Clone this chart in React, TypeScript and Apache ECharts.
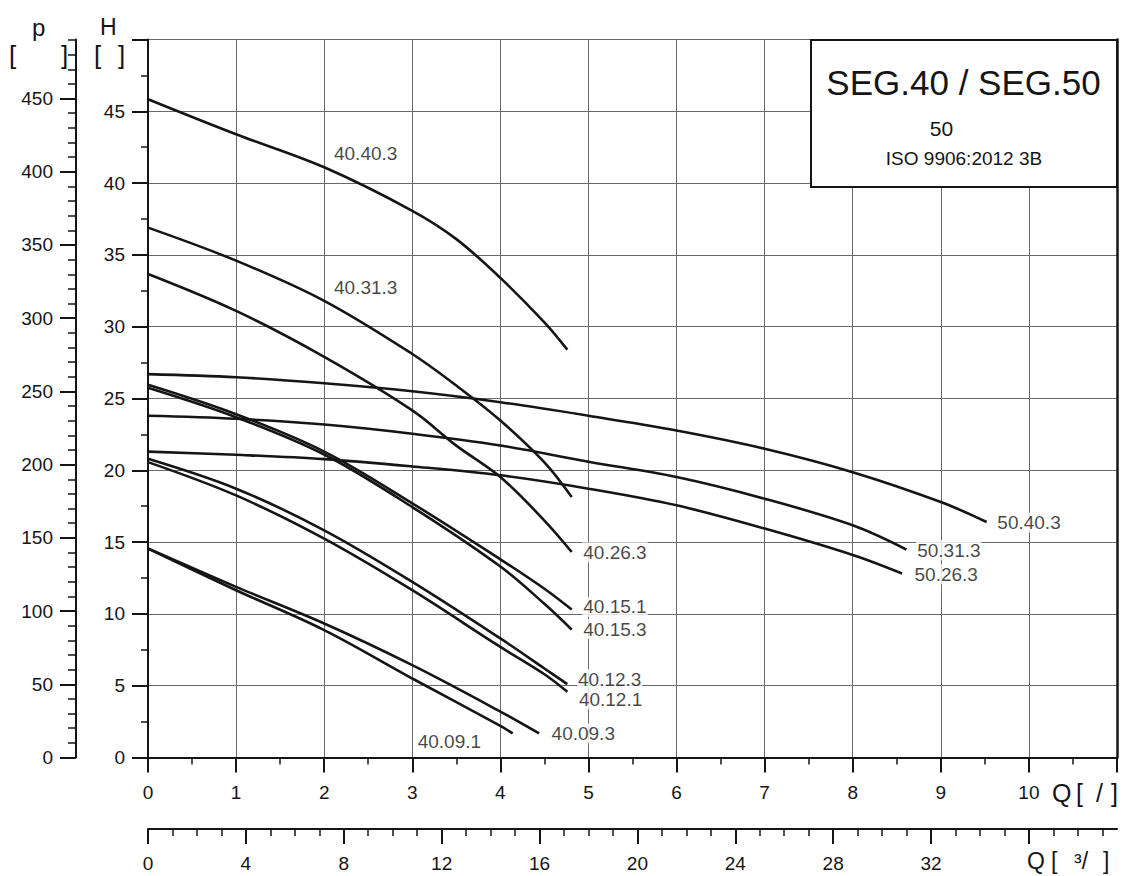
import React, { useEffect, useRef } from 'react';
import * as echarts from 'echarts';

const FONT = '"Liberation Sans", Arial, Helvetica, sans-serif';
const INK = '#151515';

// Curve data: flow Q [l/s] and head H [m]
const Q_4040_3 = [0, 1, 2, 3, 3.5, 4, 4.5, 4.76];
const H_4040_3 = [45.84, 43.4, 41.1, 38.07, 36.1, 33.4, 30.3, 28.4];
const Q_4031_3 = [0, 1, 2, 3, 3.5, 4, 4.5, 4.81];
const H_4031_3 = [36.9, 34.6, 31.8, 28.1, 25.9, 23.47, 20.55, 18.14];
const Q_4026_3 = [0, 1, 2, 3, 3.5, 4, 4.5, 4.81];
const H_4026_3 = [33.67, 31.1, 27.9, 24.17, 21.72, 19.53, 16.5, 14.31];
const Q_4015_1 = [0, 1, 2, 3, 4, 4.5, 4.81];
const H_4015_1 = [25.95, 23.9, 21.3, 17.7, 13.8, 11.75, 10.3];
const Q_4015_3 = [0, 1, 2, 3, 4, 4.5, 4.81];
const H_4015_3 = [25.75, 23.7, 21.1, 17.44, 13.3, 10.7, 8.9];
const Q_4012_3 = [0, 1, 2, 3, 4, 4.5, 4.76];
const H_4012_3 = [20.8, 18.72, 15.82, 12.23, 8.29, 6.2, 5.11];
const Q_4012_1 = [0, 1, 2, 3, 4, 4.5, 4.76];
const H_4012_1 = [20.57, 18.25, 15.24, 11.65, 7.7, 5.8, 4.58];
const Q_4009_3 = [0, 1, 2, 3, 4, 4.44];
const H_4009_3 = [14.55, 11.88, 9.33, 6.43, 3.2, 1.68];
const Q_4009_1 = [0, 1, 2, 3, 4, 4.14];
const H_4009_1 = [14.55, 11.65, 8.87, 5.5, 2.2, 1.68];
const Q_5040_3 = [0, 1, 2, 3, 4, 5, 6, 7, 8, 9, 9.52];
const H_5040_3 = [26.7, 26.48, 26.06, 25.5, 24.74, 23.8, 22.77, 21.5, 19.87, 17.79, 16.4];
const Q_5031_3 = [0, 1, 2, 3, 4, 5, 6, 7, 8, 8.61];
const H_5031_3 = [23.8, 23.59, 23.19, 22.55, 21.73, 20.6, 19.53, 18.02, 16.17, 14.48];
const Q_5026_3 = [0, 1, 2, 3, 4, 5, 6, 7, 8, 8.56];
const H_5026_3 = [21.3, 21.08, 20.78, 20.27, 19.65, 18.72, 17.56, 15.94, 14.1, 12.81];

// Curve labels (anchor = left-middle of the text, in Q/H units)
const LABEL_NAMES = ['40.40.3', '40.31.3', '40.26.3', '40.15.1', '40.15.3', '40.12.3', '40.12.1', '40.09.3', '40.09.1', '50.40.3', '50.31.3', '50.26.3'];
const LABEL_Q = [2.1, 2.1, 4.93, 4.93, 4.93, 4.87, 4.88, 4.57, 3.05, 9.63, 8.72, 8.69];
const LABEL_H = [42.04, 32.72, 14.29, 10.49, 8.94, 5.46, 4.05, 1.68, 1.1, 16.36, 14.43, 12.76];

// Axis ticks
const P_MAJOR = [0, 50, 100, 150, 200, 250, 300, 350, 400, 450];
const P_MINOR = [0, 10, 20, 30, 40, 50, 60, 70, 80, 90, 100, 110, 120, 130, 140, 150, 160, 170, 180, 190, 200, 210, 220, 230, 240, 250, 260, 270, 280, 290, 300, 310, 320, 330, 340, 350, 360, 370, 380, 390, 400, 410, 420, 430, 440, 450, 460, 470, 480, 490];
const M3H_MAJOR = [0, 4, 8, 12, 16, 20, 24, 28, 32, 36];
const M3H_LABELS = [0, 4, 8, 12, 16, 20, 24, 28, 32];
const M3H_MINOR = [0, 1, 2, 3, 4, 5, 6, 7, 8, 9, 10, 11, 12, 13, 14, 15, 16, 17, 18, 19, 20, 21, 22, 23, 24, 25, 26, 27, 28, 29, 30, 31, 32, 33, 34, 35, 36, 37, 38, 39];

const Q_MAX = 11; // l/s
const H_MAX = 50; // m
const P_MAX = H_MAX * 9.80665; // kPa
const M3H_MAX = Q_MAX * 3.6;

const CURVES: [number[], number[]][] = [
  [Q_4040_3, H_4040_3], [Q_4031_3, H_4031_3], [Q_4026_3, H_4026_3],
  [Q_4015_1, H_4015_1], [Q_4015_3, H_4015_3], [Q_4012_3, H_4012_3],
  [Q_4012_1, H_4012_1], [Q_4009_3, H_4009_3], [Q_4009_1, H_4009_1],
  [Q_5040_3, H_5040_3], [Q_5031_3, H_5031_3], [Q_5026_3, H_5026_3],
];

const lbl = (size: number) => ({ fontSize: size, fontFamily: FONT, color: INK });

export default function App() {
  const ref = useRef<HTMLDivElement>(null);
  useEffect(() => {
    if (!ref.current) return;
    const chart = echarts.init(ref.current, undefined, { renderer: 'svg' });
    const txt = (text: string, x: number, y: number, size: number, align = 'left') => ({
      type: 'text', x, y, z: 20,
      style: { text, fontSize: size, fontFamily: FONT, fill: INK, align, verticalAlign: 'middle' },
    });
    chart.setOption({
      animation: false,
      backgroundColor: '#fff',
      grid: { left: 148, right: 9, top: 39.5, bottom: 118.5, containLabel: false, outerBoundsMode: 'none' },
      xAxis: [
        {
          type: 'value', min: 0, max: Q_MAX, interval: 1, position: 'bottom',
          axisLine: { show: true, onZero: false, lineStyle: { color: INK, width: 2 } },
          axisTick: { show: true, length: 15, lineStyle: { color: INK, width: 2 } },
          minorTick: { show: true, splitNumber: 2, length: 7, lineStyle: { color: INK, width: 1.5 } },
          splitLine: { show: true, lineStyle: { color: '#6a6a6a', width: 1 } },
          axisLabel: { ...lbl(19), margin: 25, showMaxLabel: false },
        },
        {
          type: 'value', min: 0, max: M3H_MAX, position: 'bottom', offset: 71.5,
          axisLine: { show: true, onZero: false, lineStyle: { color: INK, width: 2 } },
          axisTick: { show: true, length: 15, customValues: M3H_MAJOR, lineStyle: { color: INK, width: 2 } },
          splitLine: { show: false },
          axisLabel: { ...lbl(19), margin: 25, customValues: M3H_LABELS },
        },
        {
          type: 'value', min: 0, max: M3H_MAX, position: 'bottom', offset: 71.5,
          axisLine: { show: false, onZero: false },
          axisTick: { show: true, length: 7, customValues: M3H_MINOR, lineStyle: { color: INK, width: 1.5 } },
          splitLine: { show: false },
          axisLabel: { show: false },
        },
      ],
      yAxis: [
        {
          type: 'value', min: 0, max: H_MAX, interval: 5, position: 'left',
          axisLine: { show: true, onZero: false, lineStyle: { color: INK, width: 2 } },
          axisTick: { show: true, length: 16, lineStyle: { color: INK, width: 2 } },
          minorTick: { show: true, splitNumber: 2, length: 7, lineStyle: { color: INK, width: 1.5 } },
          splitLine: { show: true, lineStyle: { color: '#6a6a6a', width: 1 } },
          axisLabel: { ...lbl(19), margin: 23, showMaxLabel: false },
        },
        {
          type: 'value', min: 0, max: P_MAX, position: 'left', offset: 72,
          axisLine: { show: true, onZero: false, lineStyle: { color: INK, width: 2 } },
          axisTick: { show: true, length: 16, customValues: P_MAJOR, lineStyle: { color: INK, width: 2 } },
          splitLine: { show: false },
          axisLabel: { ...lbl(19), margin: 23, customValues: P_MAJOR },
        },
        {
          type: 'value', min: 0, max: P_MAX, position: 'left', offset: 72,
          axisLine: { show: false, onZero: false },
          axisTick: { show: true, length: 8, customValues: P_MINOR, lineStyle: { color: INK, width: 1.5 } },
          splitLine: { show: false },
          axisLabel: { show: false },
        },
        {
          type: 'value', min: 0, max: H_MAX, position: 'right',
          axisLine: { show: true, onZero: false, lineStyle: { color: INK, width: 2.5 } },
          axisTick: { show: false }, splitLine: { show: false }, axisLabel: { show: false },
        },
      ],
      series: [
        ...CURVES.map(([q, h], i) => ({
          type: 'line', name: LABEL_NAMES[i], xAxisIndex: 0, yAxisIndex: 0,
          data: q.map((x, j) => [x, h[j]]),
          smooth: 0.35, symbol: 'none', z: 3,
          lineStyle: { color: '#151515', width: 2.6 },
        })),
        {
          type: 'scatter', xAxisIndex: 0, yAxisIndex: 0, symbolSize: 0, z: 6,
          data: LABEL_NAMES.map((n, i) => ({ name: n, value: [LABEL_Q[i], LABEL_H[i]] })),
          label: {
            show: true, position: 'right', distance: 0, formatter: '{b}',
            ...lbl(19), backgroundColor: '#fff', padding: [1, 1, 0, 1],
          },
        },
      ],
      graphic: [
        { type: 'rect', z: 15, shape: { x: 811, y: 40, width: 306, height: 147 }, style: { fill: '#fff', stroke: INK, lineWidth: 2 } },
        txt('SEG.40 / SEG.50', 963.5, 82, 35, 'center'),
        txt('50', 941.5, 128, 21, 'center'),
        txt('ISO 9906:2012 3B', 964, 158.5, 19, 'center'),
        txt('p', 32, 27, 24),
        txt('[', 9, 55, 26),
        txt(']', 61, 55, 26),
        txt('H', 100, 27, 23),
        txt('[', 94, 55, 26),
        txt(']', 118, 55, 26),
        txt('Q', 1052, 793, 25),
        txt('[', 1076, 793, 25),
        txt('/', 1096, 793, 25),
        txt(']', 1111, 793, 25),
        txt('Q', 1027, 861, 23),
        txt('[', 1051, 861, 23),
        txt('³/', 1074, 861, 23),
        txt(']', 1103, 861, 23),
      ],
    });
    return () => chart.dispose();
  }, []);
  return <div ref={ref} style={{ position: 'fixed', left: 0, top: 0, width: 1126, height: 876 }} />;
}
